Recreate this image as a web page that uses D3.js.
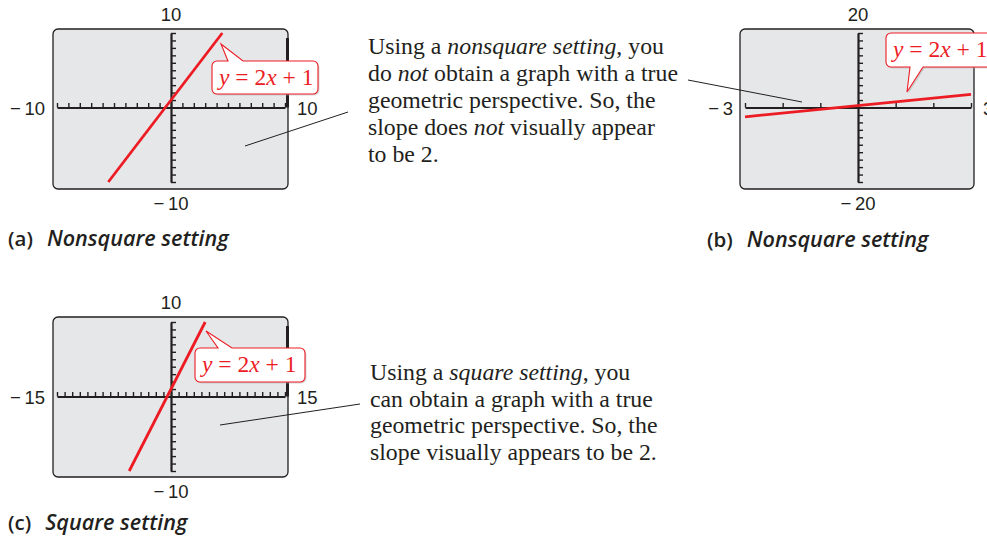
<!DOCTYPE html>
<html lang="en">
<head>
<meta charset="UTF-8">
<title>Square and nonsquare settings</title>
<script src="https://cdn.jsdelivr.net/npm/d3@7"></script>
<style>
    body { margin: 0; background: #fff; }
    svg { display: block; }
    .screen { fill: #e6e7e8; stroke: #231f20; stroke-width: 1.3; }
    .axis path.domain { stroke: #231f20; stroke-width: 2.2; }
    .axis .tick line { stroke: #231f20; stroke-width: 1.4; }
    .lbl { font: 18.5px "Liberation Sans", Arial, sans-serif; fill: #231f20; }
    .note { font: 23.8px "Liberation Serif", "Times New Roman", serif; fill: #231f20; }
    .eq { font: 23.5px "Liberation Serif", "Times New Roman", serif; fill: #ed1c24; }
    .cap { font: 600 20.5px "Open Sans", sans-serif; fill: #231f20; }
    .leader { stroke: #231f20; stroke-width: 1; }
</style>
</head>
<body>
<script>
// window settings
var panelIds = ["(a)", "(b)", "(c)"];
var captionTexts = ["Nonsquare setting", "Nonsquare setting", "Square setting"];
var xWindows = [[-10, 10], [-3, 3], [-15, 15]];
var yWindows = [[-10, 10], [-20, 20], [-10, 10]];
var xScl = [1, 1, 1];
var yScl = [1, 2, 1];
// end points of the drawn graph, in window units
var lineEnds = [
    [[-5.5, -10], [4.5, 10]],
    [[-3, -2.5], [3, 3.5]],
    [[-5.5, -10], [4.5, 10]]
];
var equation = [["y", true], [" = 2", false], ["x", true], [" + 1", false]];
var noteNonsquare = [
    [["Using a ", false], ["nonsquare setting", true], [", you", false]],
    [["do ", false], ["not", true], [" obtain a graph with a true", false]],
    [["geometric perspective. So, the", false]],
    [["slope does ", false], ["not", true], [" visually appear", false]],
    [["to be 2.", false]]
];
var noteSquare = [
    [["Using a ", false], ["square setting", true], [", you", false]],
    [["can obtain a graph with a true", false]],
    [["geometric perspective. So, the", false]],
    [["slope visually appears to be 2.", false]]
];

// where each screen sits on the page
var layout = [
    { sx: 53, sy: 29, sw: 235, sh: 160, xr: [57, 285], yr: [182, 33], bar: true,
      box: { x: 212, y: 61, w: 106, h: 33, side: "top", b1: 228, b2: 243, tx: 221, ty: 44 },
      cap: [8, 246] },
    { sx: 740, sy: 29, sw: 234, sh: 160, xr: [745, 971], yr: [182, 33], bar: false,
      box: { x: 886, y: 33, w: 112, h: 34, side: "bottom", b1: 910, b2: 923, tx: 907, ty: 92 },
      cap: [707, 247] },
    { sx: 53, sy: 317, sw: 235, sh: 160, xr: [57, 285], yr: [471, 322], bar: true,
      box: { x: 195, y: 348, w: 110, h: 34, side: "top", b1: 218, b2: 232, tx: 206, ty: 331 },
      cap: [8, 530] }
];
var leaders = [[[245, 146], [348, 112]], [[688, 80], [802, 102]], [[220, 425], [360, 404]]];

var svg = d3.select("body").append("svg")
    .attr("width", 987)
    .attr("height", 541);

function minus(v) {
    return v < 0 ? "\u2212\u2009" + Math.abs(v) : String(v);
}

function calloutPath(b) {
    var r = 5, x0 = b.x, y0 = b.y, x1 = b.x + b.w, y1 = b.y + b.h;
    var p = d3.path();
    p.moveTo(x0 + r, y0);
    if (b.side === "top") {
        p.lineTo(b.b1, y0);
        p.lineTo(b.tx, b.ty);
        p.lineTo(b.b2, y0);
    }
    p.lineTo(x1 - r, y0);
    p.arcTo(x1, y0, x1, y0 + r, r);
    p.lineTo(x1, y1 - r);
    p.arcTo(x1, y1, x1 - r, y1, r);
    if (b.side === "bottom") {
        p.lineTo(b.b2, y1);
        p.lineTo(b.tx, b.ty);
        p.lineTo(b.b1, y1);
    }
    p.lineTo(x0 + r, y1);
    p.arcTo(x0, y1, x0, y1 - r, r);
    p.lineTo(x0, y0 + r);
    p.arcTo(x0, y0, x0 + r, y0, r);
    p.closePath();
    return p.toString();
}

function addRuns(textSel, runs) {
    runs.forEach(function(run) {
        textSel.append("tspan")
            .style("font-style", run[1] ? "italic" : "normal")
            .text(run[0]);
    });
}

panelIds.forEach(function(id, i) {
    var L = layout[i];
    var g = svg.append("g");

    var x = d3.scaleLinear().domain(xWindows[i]).range(L.xr);
    var y = d3.scaleLinear().domain(yWindows[i]).range(L.yr);

    g.append("rect")
        .attr("class", "screen")
        .attr("x", L.sx).attr("y", L.sy)
        .attr("width", L.sw).attr("height", L.sh)
        .attr("rx", 5);

    var xt = d3.range(xWindows[i][0], xWindows[i][1] + 1e-9, xScl[i]);
    var yt = d3.range(yWindows[i][0], yWindows[i][1] + 1e-9, yScl[i]);

    g.append("g")
        .attr("class", "axis")
        .attr("transform", "translate(0," + y(0) + ")")
        .call(d3.axisTop(x).tickValues(xt).tickSize(4.5).tickSizeOuter(0).tickFormat(""));

    g.append("g")
        .attr("class", "axis")
        .attr("transform", "translate(" + x(0) + ",0)")
        .call(d3.axisRight(y).tickValues(yt).tickSize(5).tickSizeOuter(0).tickFormat(""));

    if (L.bar) {
        g.append("line")
            .attr("x1", L.sx + L.sw - 0.5).attr("x2", L.sx + L.sw - 0.5)
            .attr("y1", L.sy + 9).attr("y2", y(0))
            .attr("stroke", "#231f20").attr("stroke-width", 3);
    }

    g.append("line")
        .attr("x1", x(lineEnds[i][0][0])).attr("y1", y(lineEnds[i][0][1]))
        .attr("x2", x(lineEnds[i][1][0])).attr("y2", y(lineEnds[i][1][1]))
        .attr("stroke", "#ed1c24").attr("stroke-width", 2.8);

    // window labels
    g.append("text").attr("class", "lbl").attr("text-anchor", "middle")
        .attr("x", x(0)).attr("y", L.sy - 8).text(minus(yWindows[i][1]));
    g.append("text").attr("class", "lbl").attr("text-anchor", "middle")
        .attr("x", x(0)).attr("y", L.sy + L.sh + 21).text(minus(yWindows[i][0]));
    g.append("text").attr("class", "lbl").attr("text-anchor", "end")
        .attr("x", L.xr[0] - 12).attr("y", y(0) + 7).text(minus(xWindows[i][0]));
    g.append("text").attr("class", "lbl").attr("text-anchor", "start")
        .attr("x", L.sx + L.sw + 9).attr("y", y(0) + 7).text(minus(xWindows[i][1]));

    // equation callout
    g.append("path")
        .attr("d", calloutPath(L.box))
        .attr("transform", "translate(1.5,1.5)")
        .attr("fill", "#b0b0b0").attr("opacity", 0.5);
    g.append("path")
        .attr("d", calloutPath(L.box))
        .attr("fill", "#fff").attr("stroke", "#ed1c24").attr("stroke-width", 1.1);
    addRuns(g.append("text").attr("class", "eq")
        .attr("x", L.box.x + 7).attr("y", L.box.y + 24), equation);

    // leader to the note
    g.append("line").attr("class", "leader")
        .attr("x1", leaders[i][0][0]).attr("y1", leaders[i][0][1])
        .attr("x2", leaders[i][1][0]).attr("y2", leaders[i][1][1]);

    // caption
    var cap = g.append("text").attr("class", "cap")
        .attr("x", L.cap[0]).attr("y", L.cap[1]);
    cap.append("tspan").text(id);
    cap.append("tspan").attr("dx", 14).style("font-style", "italic")
        .style("font-size", "21.6px")
        .text(captionTexts[i]);
});

function drawNote(lines, x0, y0, step) {
    lines.forEach(function(runs, k) {
        addRuns(svg.append("text").attr("class", "note")
            .attr("x", x0).attr("y", y0 + k * step), runs);
    });
}
drawNote(noteNonsquare, 368, 54, 27);
drawNote(noteSquare, 370, 380, 26.5);
</script>
</body>
</html>
